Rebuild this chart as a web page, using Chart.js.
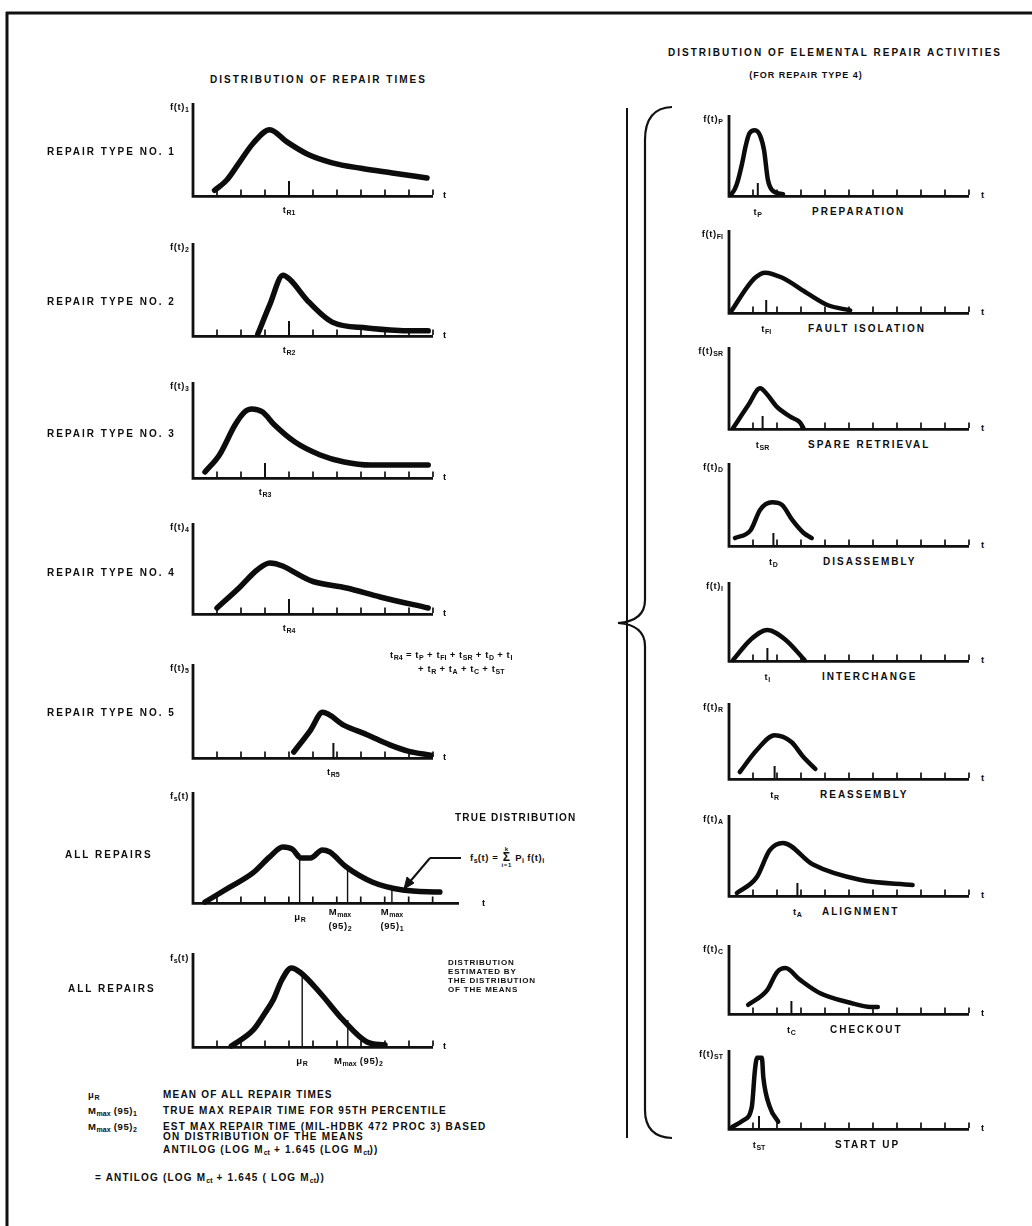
<!DOCTYPE html>
<html><head><meta charset="utf-8">
<script src="https://cdn.jsdelivr.net/npm/chart.js@4.4.1/dist/chart.umd.min.js"></script>
<style>
html,body{margin:0;padding:0;background:#fff;}
#page{position:relative;width:1032px;height:1226px;overflow:hidden;background:#fff;font-family:"Liberation Sans",Arial,sans-serif;font-weight:bold;color:#0e0e0e;}
.lb{position:absolute;white-space:nowrap;font-size:9.5px;letter-spacing:0.6px;line-height:1;transform:translateY(-50%);}
.lb.c{transform:translate(-50%,-50%);}
.lb.r{transform:translate(-100%,-50%);}
.lb.nm{font-size:10px;letter-spacing:2px;}
.lb.lg{font-size:10px;letter-spacing:1.2px;}
.lb.sub2{font-size:9px;letter-spacing:1px;}
.lb.sm{font-size:8px;letter-spacing:0.8px;}
sub{font-size:7px;vertical-align:-2px;letter-spacing:0;}
canvas{position:absolute;}
svg{position:absolute;left:0;top:0;}
.sig{display:inline-block;text-align:center;vertical-align:middle;line-height:0.9;font-size:6px;}
.sig b{display:block;font-size:12px;}
</style></head><body>
<div id="page">
<svg width="1032" height="1226">
  <line x1="6" y1="13" x2="1032" y2="13" stroke="#111" stroke-width="3"/>
  <line x1="7" y1="12" x2="7" y2="1226" stroke="#111" stroke-width="3"/>
  <line x1="627" y1="108" x2="627" y2="1138" stroke="#111" stroke-width="2"/>
  <path d="M672 107 Q645 108 645 140 L645 600 Q645 621 618 623 Q645 625 645 646 L645 1110 Q645 1137 672 1138" fill="none" stroke="#111" stroke-width="2.2"/>
  <line x1="461" y1="858" x2="430" y2="858" stroke="#111" stroke-width="2"/>
  <line x1="430" y1="858" x2="408" y2="884" stroke="#111" stroke-width="2"/>
  <path d="M404 889 L407 877 L414 883 Z" fill="#111" stroke="#111" stroke-width="1"/>
</svg>
</div>
<script>
// ================= DATA =================
// t in tick units along the time axis, f as fraction of the f(t) axis height
const repairTypes = ["REPAIR TYPE NO. 1", "REPAIR TYPE NO. 2", "REPAIR TYPE NO. 3", "REPAIR TYPE NO. 4", "REPAIR TYPE NO. 5"];
const repairCodes = ["1", "2", "3", "4", "5"];
const repairMeanT = [4.0, 4.0, 3.0, 4.0, 5.85];

const type1T = [0.9, 1.4, 2.0, 2.5, 3.2, 3.9, 4.8, 5.8, 7.0, 8.3, 9.75];
const type1F = [0.05, 0.16, 0.38, 0.56, 0.71, 0.58, 0.44, 0.35, 0.29, 0.24, 0.185];
const type2T = [2.7, 3.2, 3.75, 4.05, 4.75, 5.8, 7.25, 8.6, 9.8];
const type2F = [0.01, 0.33, 0.65, 0.6, 0.38, 0.14, 0.076, 0.05, 0.045];
const type3T = [0.5, 1.1, 1.75, 2.15, 2.45, 2.9, 3.4, 4.25, 5.3, 6.3, 7.4, 9.8];
const type3F = [0.053, 0.232, 0.547, 0.684, 0.716, 0.684, 0.547, 0.368, 0.232, 0.158, 0.126, 0.126];
const type4T = [1.0, 1.96, 2.67, 3.2, 5.0, 6.4, 7.8, 9.8];
const type4F = [0.056, 0.29, 0.478, 0.556, 0.35, 0.278, 0.178, 0.056];
const type5T = [4.2, 4.9, 5.4, 6.3, 7.25, 8.2, 9.0, 9.9];
const type5F = [0.054, 0.29, 0.48, 0.34, 0.24, 0.13, 0.06, 0.02];

const allTrueT = [0.5, 1.5, 2.5, 3.2, 3.75, 4.15, 4.5, 4.9, 5.4, 5.7, 6.4, 7.5, 8.75, 10.3];
const allTrueF = [0.0, 0.13, 0.264, 0.41, 0.5, 0.48, 0.4, 0.4, 0.473, 0.455, 0.318, 0.18, 0.109, 0.09];
const allTrueMarkT = [4.45, 6.45, 8.3];   // mu_R, Mmax(95)2, Mmax(95)1
const allTrueMarkF = [0.44, 0.32, 0.13];

const allEstT = [1.6, 2.5, 3.0, 3.35, 3.7, 4.1, 4.5, 5.3, 6.25, 7.25, 8.0];
const allEstF = [0.0, 0.17, 0.355, 0.5, 0.71, 0.84, 0.785, 0.57, 0.28, 0.043, 0.01];
const allEstMarkT = [4.55, 6.45];          // mu_R, Mmax(95)2
const allEstMarkF = [0.78, 0.28];

const activities = ["PREPARATION", "FAULT ISOLATION", "SPARE RETRIEVAL", "DISASSEMBLY", "INTERCHANGE", "REASSEMBLY", "ALIGNMENT", "CHECKOUT", "START UP"];
const activityCodes = ["P", "FI", "SR", "D", "I", "R", "A", "C", "ST"];
const activityMeanT = [1.2, 1.55, 1.4, 1.85, 1.6, 1.9, 2.85, 2.6, 1.25];

const prepT = [0.1, 0.25, 0.38, 0.55, 0.7, 0.85, 1.08, 1.3, 1.46, 1.62, 1.8, 2.25];
const prepF = [0.01, 0.08, 0.19, 0.4, 0.62, 0.77, 0.81, 0.74, 0.56, 0.19, 0.06, 0.01];
const faultT = [0.12, 0.75, 1.1, 1.5, 2.2, 3.25, 4.1, 5.05];
const faultF = [0.02, 0.3, 0.42, 0.48, 0.42, 0.23, 0.085, 0.02];
const spareT = [0.17, 0.8, 1.3, 1.6, 2.0, 2.55, 2.95, 3.1];
const spareF = [0.0, 0.28, 0.49, 0.41, 0.26, 0.14, 0.07, 0.0];
const disT = [0.25, 0.9, 1.3, 1.8, 2.2, 2.65, 3.1, 3.45];
const disF = [0.085, 0.18, 0.43, 0.52, 0.49, 0.3, 0.15, 0.085];
const interT = [0.17, 0.9, 1.6, 2.35, 3.15];
const interF = [0.0, 0.26, 0.385, 0.26, 0.0];
const reasT = [0.45, 1.15, 1.9, 2.6, 3.1, 3.6];
const reasF = [0.08, 0.37, 0.57, 0.48, 0.28, 0.12];
const alignT = [0.33, 1.15, 1.7, 2.25, 3.5, 5.45, 7.65];
const alignF = [0.025, 0.22, 0.56, 0.65, 0.38, 0.19, 0.125];
const checkT = [0.8, 1.6, 2.0, 2.35, 2.95, 3.8, 5.05, 5.9, 6.2];
const checkF = [0.12, 0.34, 0.6, 0.66, 0.49, 0.29, 0.15, 0.09, 0.09];
const startT = [0.12, 0.6, 0.95, 1.08, 1.17, 1.37, 1.43, 1.7, 2.05];
const startF = [0.01, 0.1, 0.27, 0.74, 0.9, 0.9, 0.65, 0.27, 0.08];

const tickValues = [1, 2, 3, 4, 5, 6, 7, 8, 9, 10];

// ================= LAYOUT =================
const UNIT = 24;   // px per time tick
const PAD = 10;
const page = document.getElementById('page');

function label(x, y, html, cls) {
  const d = document.createElement('div');
  d.className = 'lb' + (cls ? ' ' + cls : '');
  d.style.left = x + 'px'; d.style.top = y + 'px';
  d.innerHTML = html;
  page.appendChild(d);
  return d;
}

function plot(p) {
  const w = p.max * UNIT + 2 * PAD, h = (p.base - p.top) + 2 * PAD;
  const cv = document.createElement('canvas');
  cv.width = w; cv.height = h;
  cv.style.left = (p.x - PAD) + 'px'; cv.style.top = (p.top - PAD) + 'px';
  cv.style.width = w + 'px'; cv.style.height = h + 'px';
  page.appendChild(cv);
  const axes = {
    id: 'axes',
    beforeDatasetsDraw(chart) {
      const c = chart.ctx, xs = chart.scales.x, ys = chart.scales.y;
      const x0 = xs.getPixelForValue(0), y0 = ys.getPixelForValue(0);
      c.save();
      c.strokeStyle = '#101010'; c.lineCap = 'butt';
      c.lineWidth = 2.8;
      c.beginPath();
      c.moveTo(x0, ys.getPixelForValue(1)); c.lineTo(x0, y0 + 1.3);
      c.lineTo(xs.getPixelForValue(p.max), y0 + 1.3);
      c.stroke();
      c.lineWidth = 1.7;
      p.ticks.forEach(v => {
        const xp = xs.getPixelForValue(v);
        c.beginPath(); c.moveTo(xp, y0); c.lineTo(xp, y0 - 5.5); c.stroke();
      });
      if (p.mean != null) {
        c.lineWidth = 2;
        const xp = xs.getPixelForValue(p.mean);
        c.beginPath(); c.moveTo(xp, y0); c.lineTo(xp, y0 - p.meanLen); c.stroke();
      }
      (p.marks || []).forEach((m) => {
        c.lineWidth = 1.4;
        const xp = xs.getPixelForValue(m[0]);
        c.beginPath(); c.moveTo(xp, y0); c.lineTo(xp, ys.getPixelForValue(m[1])); c.stroke();
      });
      c.restore();
    }
  };
  new Chart(cv, {
    type: 'line',
    data: { datasets: [{
      data: p.t.map((t, i) => ({ x: t, y: p.f[i] })),
      borderColor: '#0c0c0c', borderWidth: p.lw, pointRadius: 0,
      cubicInterpolationMode: 'monotone', fill: false, clip: false,
      borderCapStyle: 'round', borderJoinStyle: 'round'
    }] },
    options: {
      responsive: false, animation: false, devicePixelRatio: 1,
      layout: { padding: PAD },
      plugins: { legend: { display: false }, tooltip: { enabled: false } },
      scales: {
        x: { type: 'linear', display: false, min: 0, max: p.max },
        y: { type: 'linear', display: false, min: 0, max: 1 }
      }
    },
    plugins: [axes]
  });
}

// ---- left column ----
const leftTops = [103, 243, 382, 523, 664];
const leftBases = [195, 335, 477, 613, 757];
const leftNameY = [152, 302, 434, 573, 713];
const leftT = [type1T, type2T, type3T, type4T, type5T];
const leftF = [type1F, type2F, type3F, type4F, type5F];
for (let i = 0; i < 5; i++) {
  plot({ x: 193, top: leftTops[i], base: leftBases[i], max: 10, t: leftT[i], f: leftF[i],
         ticks: tickValues, mean: repairMeanT[i], meanLen: 14, lw: 5.5 });
  label(189, leftTops[i] + 4, 'f(t)<sub>' + repairCodes[i] + '</sub>', 'r');
  label(47, leftNameY[i], repairTypes[i], 'nm');
  label(193 + repairMeanT[i] * UNIT, leftBases[i] + 15, 't<sub>R' + repairCodes[i] + '</sub>', 'c');
  label(443, leftBases[i], 't');
}
// all repairs - true distribution
plot({ x: 193, top: 792, base: 902, max: 11.1, t: allTrueT, f: allTrueF, ticks: tickValues,
       mean: null, lw: 5.5, marks: allTrueMarkT.map((t, i) => [t, allTrueMarkF[i]]) });
// all repairs - estimated
plot({ x: 193, top: 953, base: 1046, max: 10, t: allEstT, f: allEstF, ticks: tickValues,
       mean: null, lw: 5.5, marks: allEstMarkT.map((t, i) => [t, allEstMarkF[i]]) });

// ---- right column ----
const rightTops = [115, 230, 347, 463, 582, 703, 815, 945, 1050];
const rightBases = [195, 312, 428, 545, 660, 778, 895, 1013, 1128];
const rightNameX = [812, 808, 808, 823, 822, 820, 822, 830, 835];
const rightT = [prepT, faultT, spareT, disT, interT, reasT, alignT, checkT, startT];
const rightF = [prepF, faultF, spareF, disF, interF, reasF, alignF, checkF, startF];
for (let i = 0; i < 9; i++) {
  plot({ x: 729, top: rightTops[i], base: rightBases[i], max: 10, t: rightT[i], f: rightF[i],
         ticks: tickValues, mean: activityMeanT[i], meanLen: 12, lw: 4.5 });
  label(723, rightTops[i] + 4, 'f(t)<sub>' + activityCodes[i] + '</sub>', 'r');
  label(729 + activityMeanT[i] * UNIT, rightBases[i] + 17, 't<sub>' + activityCodes[i] + '</sub>', 'c');
  label(rightNameX[i], rightBases[i] + 17, activities[i], 'nm');
  label(981, rightBases[i], 't');
}

// ---- titles and annotations ----
label(210, 80, 'DISTRIBUTION OF REPAIR TIMES', 'nm');
label(835, 53, 'DISTRIBUTION OF ELEMENTAL REPAIR ACTIVITIES', 'c nm');
label(806, 75, '(FOR REPAIR TYPE 4)', 'c sub2');

label(390, 655, 't<sub>R4</sub> = t<sub>P</sub> + t<sub>FI</sub> + t<sub>SR</sub> + t<sub>D</sub> + t<sub>I</sub>');
label(418, 669, '+ t<sub>R</sub> + t<sub>A</sub> + t<sub>C</sub> + t<sub>ST</sub>');

label(189, 796, 'f<sub>s</sub>(t)', 'r');
label(65, 855, 'ALL REPAIRS', 'nm');
label(455, 818, 'TRUE DISTRIBUTION', 'lg');
label(470, 858, 'f<sub>s</sub>(t) = <span class="sig">k<b>&Sigma;</b>i=1</span> P<sub>i</sub> f(t)<sub>i</sub>');
label(300, 917, '&mu;<sub>R</sub>', 'c');
label(340, 912, 'M<sub>max</sub>', 'c');
label(340, 926, '(95)<sub>2</sub>', 'c');
label(392, 912, 'M<sub>max</sub>', 'c');
label(392, 926, '(95)<sub>1</sub>', 'c');
label(482, 903, 't');

label(189, 958, 'f<sub>s</sub>(t)', 'r');
label(68, 989, 'ALL REPAIRS', 'nm');
label(448, 963, 'DISTRIBUTION', 'sm');
label(448, 972, 'ESTIMATED BY', 'sm');
label(448, 981, 'THE DISTRIBUTION', 'sm');
label(448, 990, 'OF THE MEANS', 'sm');
label(302, 1061, '&mu;<sub>R</sub>', 'c');
label(334, 1061, 'M<sub>max</sub> (95)<sub>2</sub>');
label(443, 1046, 't');

label(88, 1095, '&mu;<sub>R</sub>');
label(163, 1095, 'MEAN OF ALL REPAIR TIMES', 'lg');
label(88, 1111, 'M<sub>max</sub> (95)<sub>1</sub>');
label(163, 1111, 'TRUE MAX REPAIR TIME FOR 95TH PERCENTILE', 'lg');
label(88, 1127, 'M<sub>max</sub> (95)<sub>2</sub>');
label(163, 1127, 'EST MAX REPAIR TIME (MIL-HDBK 472 PROC 3) BASED', 'lg');
label(163, 1137, 'ON DISTRIBUTION OF THE MEANS', 'lg');
label(163, 1150, 'ANTILOG (LOG M<sub>ct</sub> + 1.645 (LOG M<sub>ct</sub>))', 'lg');
label(95, 1178, '= ANTILOG (LOG M<sub>ct</sub> + 1.645 ( LOG M<sub>ct</sub>))', 'lg');
</script>
</body></html>
